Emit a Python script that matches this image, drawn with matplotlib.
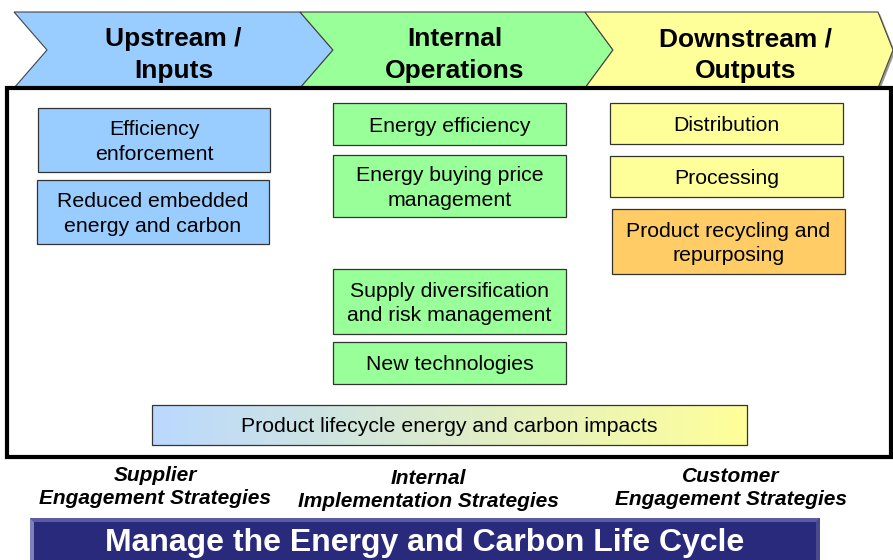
import matplotlib
matplotlib.use("Agg")
import matplotlib.pyplot as plt
import numpy as np
from matplotlib.patches import Polygon, Rectangle

plt.rcParams['font.family'] = ['Liberation Sans', 'DejaVu Sans']

# ---- content ----
stage_titles = ["Upstream /\nInputs", "Internal\nOperations", "Downstream /\nOutputs"]
stage_colors = ["#99CCFF", "#99FF99", "#FFFF99"]

upstream_items = ["Efficiency\nenforcement", "Reduced embedded\nenergy and carbon"]
internal_items = ["Energy efficiency", "Energy buying price\nmanagement",
                  "Supply diversification\nand risk management", "New technologies"]
downstream_items = ["Distribution", "Processing", "Product recycling and\nrepurposing"]
downstream_colors = ["#FFFF99", "#FFFF99", "#FFCC66"]

lifecycle_label = "Product lifecycle energy and carbon impacts"
strategy_labels = ["Supplier\nEngagement Strategies",
                   "Internal\nImplementation Strategies",
                   "Customer\nEngagement Strategies"]
banner_label = "Manage the Energy and Carbon Life Cycle"

# ---- layout (pixel coordinates, y down) ----
W, H = 893, 560
fig = plt.figure(figsize=(W / 100, H / 100), dpi=100)
ax = fig.add_axes([0, 0, 1, 1])
ax.set_xlim(0, W)
ax.set_ylim(H, 0)
ax.axis('off')

# chevrons: (left x, notch depth, right x, tip x)
chev_geom = [(14, 47, 300, 333), (300, 333, 585, 613), (585, 613, 878, 893)]
chev_dx = [0, -4, 0]
ch_top, ch_bot = 12, 88
ch_mid = (ch_top + ch_bot) / 2
for (lx, nx, rx, tx), dx, title, col in zip(chev_geom, chev_dx, stage_titles, stage_colors):
    pts = [(lx, ch_top), (rx, ch_top), (tx, ch_mid), (rx, ch_bot),
           (lx, ch_bot), (nx, ch_mid)]
    sh = [(x + 2, y + 2) for x, y in pts]
    ax.add_patch(Polygon(sh, closed=True, fc="#9a9a9a", ec="none", zorder=1))
    ax.add_patch(Polygon(pts, closed=True, fc=col, ec="#444444", lw=0.8, zorder=2))
    cx = (nx + rx) / 2 + dx
    ax.text(cx, ch_mid + 5, title, ha='center', va='center', fontsize=19,
            fontweight='bold', linespacing=1.38, zorder=3)

# main frame
ax.add_patch(Rectangle((7, 88), 884, 369, fc="white", ec="black", lw=3, zorder=2.5))

def box(x0, y0, x1, y1, label, fc, fs=15.3):
    ax.add_patch(Rectangle((x0, y0), x1 - x0, y1 - y0, fc=fc, ec="#333333",
                           lw=0.9, zorder=4))
    ax.text((x0 + x1) / 2, (y0 + y1) / 2 + 2, label, ha='center', va='center',
            fontsize=fs, linespacing=1.35, zorder=5)

up_pos = [(38, 108, 270, 172), (37, 180, 269, 244)]
for (x0, y0, x1, y1), lab in zip(up_pos, upstream_items):
    box(x0, y0, x1, y1, lab, "#99CCFF")

in_pos = [(333, 103, 566, 145), (333, 155, 566, 217), (333, 269, 566, 334),
          (333, 342, 566, 384)]
for (x0, y0, x1, y1), lab in zip(in_pos, internal_items):
    box(x0, y0, x1, y1, lab, "#99FF99")

dn_pos = [(610, 103, 843, 144), (610, 156, 843, 197), (612, 209, 845, 274)]
for (x0, y0, x1, y1), lab, c in zip(dn_pos, downstream_items, downstream_colors):
    box(x0, y0, x1, y1, lab, c)

# gradient lifecycle bar
gx0, gy0, gx1, gy1 = 152, 405, 747, 445
c0 = np.array([0.73, 0.85, 1.0])
c1 = np.array([1.0, 1.0, 0.60])
t = np.linspace(0, 1, 256)[None, :, None]
grad = c0 * (1 - t) + c1 * t
ax.imshow(grad, extent=(gx0, gx1, gy1, gy0), aspect='auto', zorder=4,
          interpolation='bilinear')
ax.set_xlim(0, W)
ax.set_ylim(H, 0)
ax.add_patch(Rectangle((gx0, gy0), gx1 - gx0, gy1 - gy0, fc="none", ec="#333333",
                       lw=0.9, zorder=5))
ax.text((gx0 + gx1) / 2, (gy0 + gy1) / 2 + 1, lifecycle_label, ha='center',
        va='center', fontsize=15.3, zorder=6)

# strategy labels
strat_x = [155, 428, 731]
strat_y = [487, 490, 488]
for x, y, lab in zip(strat_x, strat_y, strategy_labels):
    ax.text(x, y, lab, ha='center', va='center', fontsize=15, fontweight='bold',
            fontstyle='italic', linespacing=1.3, zorder=6)

# banner
bx0, by0, bx1, by1 = 30, 518, 820, 562
ax.add_patch(Rectangle((bx0, by0), bx1 - bx0, by1 - by0, fc="#2A2A7C", ec="none",
                       zorder=6))
ax.add_patch(Polygon([(bx0, by0), (bx1, by0), (bx1 - 4, by0 + 4), (bx0 + 4, by0 + 4)],
                     closed=True, fc="#5C5CA3", ec="none", zorder=7))
ax.add_patch(Polygon([(bx0, by0), (bx0 + 4, by0 + 4), (bx0 + 4, by1), (bx0, by1)],
                     closed=True, fc="#8080B8", ec="none", zorder=7))
ax.add_patch(Polygon([(bx1, by0), (bx1 - 4, by0 + 4), (bx1 - 4, by1), (bx1, by1)],
                     closed=True, fc="#4A4A90", ec="none", zorder=7))
ax.text((bx0 + bx1) / 2, 543, banner_label, ha='center', va='center',
        fontsize=23, fontweight='bold', color='white', zorder=8)

fig.savefig("out.png", dpi=100)
